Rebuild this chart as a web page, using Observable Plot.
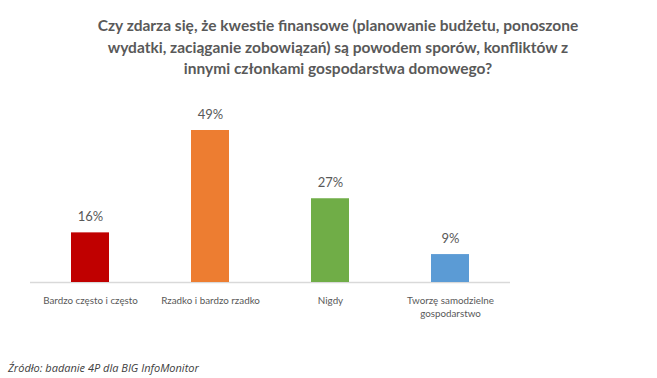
<!DOCTYPE html>
<html>
<head>
<meta charset="utf-8">
<script src="https://cdn.jsdelivr.net/npm/d3@7"></script>
<script src="https://cdn.jsdelivr.net/npm/@observablehq/plot@0.6"></script>
<style>
  html, body { margin: 0; padding: 0; background: #fff; }
  #wrap { position: relative; width: 657px; height: 378px; overflow: hidden; }
  #title { position: absolute; left: 0; top: 15px; width: 676px; text-align: center;
    font-family: Lato, "Open Sans", sans-serif; font-weight: bold; font-size: 15.5px; line-height: 21.5px; color: #595959; }
  #chart { position: absolute; left: 0; top: 90px; width: 657px; }
  #caption { position: absolute; left: 8px; top: 360px; font-family: "Open Sans", sans-serif;
    font-style: italic; font-size: 11px; color: #404040; }
</style>
</head>
<body>
<div id="wrap">
  <div id="title"></div>
  <div id="chart"></div>
  <div id="caption"></div>
</div>
<script>
const titleLines = [
  "Czy zdarza się, że kwestie finansowe (planowanie budżetu, ponoszone",
  "wydatki, zaciąganie zobowiązań) są powodem sporów, konfliktów z",
  "innymi członkami gospodarstwa domowego?"
];
const categories = ["Bardzo często i często", "Rzadko i bardzo rzadko", "Nigdy", "Tworzę samodzielne\ngospodarstwo"];
const values = [16, 49, 27, 9];
const valueLabels = ["16%", "49%", "27%", "9%"];
const colors = ["#C00000", "#ED7D31", "#70AD47", "#5B9BD5"];
const caption = "Źródło: badanie 4P dla BIG InfoMonitor";

document.getElementById("title").innerHTML = titleLines.join("<br>");
document.getElementById("caption").textContent = caption;

const data = categories.map((c, i) => ({cat: c, value: values[i], label: valueLabels[i], color: colors[i]}));

const chart = Plot.plot({
  width: 657,
  height: 232,
  marginLeft: 30,
  marginRight: 147,
  marginTop: 40,
  marginBottom: 40,
  style: {fontFamily: "Lato, 'Open Sans', sans-serif", color: "#595959", background: "transparent"},
  x: {domain: categories, paddingInner: 0.68, paddingOuter: 0.34, label: null, tickSize: 0},
  y: {domain: [0, 49], axis: null},
  marks: [
    Plot.ruleY([0], {stroke: "#d9d9d9", strokeWidth: 1.5}),
    Plot.barY(data, {x: "cat", y: "value", fill: "color"}),
    Plot.text(data, {x: "cat", y: "value", text: "label", dy: -16, fontSize: 13, fill: "#595959"}),
    Plot.axisX({tickSize: 0, tickPadding: 12, fontSize: 9.8, fill: "#595959", lineHeight: 1.35})
  ]
});
document.getElementById("chart").appendChild(chart);
</script>
</body>
</html>
